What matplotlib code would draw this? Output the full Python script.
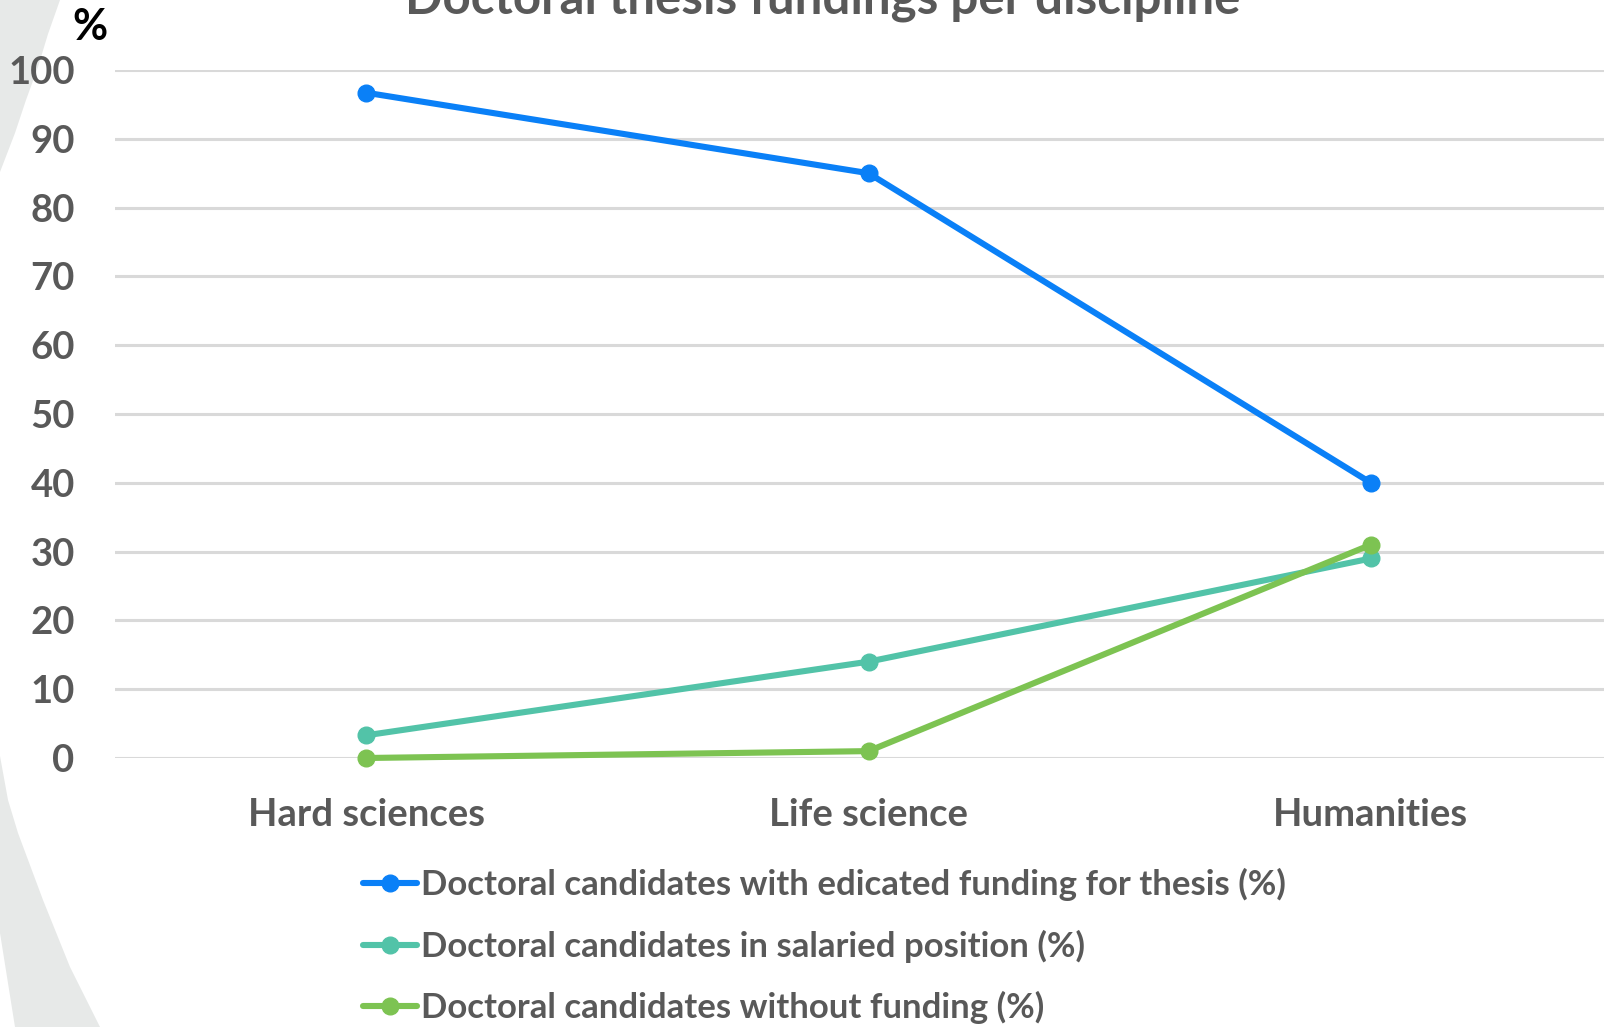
import matplotlib.pyplot as plt
from matplotlib.patches import Polygon

# data
categories = ['Hard sciences', 'Life science', 'Humanities']
dedicated = [96.7, 85, 40]
salaried = [3.3, 14, 29]
no_funding = [0, 1, 31]
labels = ['Doctoral candidates with edicated funding for thesis (%)',
          'Doctoral candidates in salaried position (%)',
          'Doctoral candidates without funding (%)']
colors = ['#0a80f7', '#52c3a8', '#7dc352']
yticks = list(range(0, 101, 10))

plt.rcParams['font.family'] = ['Lato', 'DejaVu Sans']
plt.rcParams['font.weight'] = 'bold'

W, H = 1604, 1027
fig = plt.figure(figsize=(W / 100, H / 100), dpi=100)


def px(pts):
    # pixel coords (from top-left) -> figure fraction
    return [(x / W, 1 - y / H) for x, y in pts]


# decorative grey band on the left
band = '#e7e9e8'
top_piece = [(0, 0), (60, 0), (48, 34), (38, 67), (26, 100), (15, 133), (0, 172), (0, 0)]
bot_piece = [(0, 756), (8, 800), (18, 833), (43, 900), (70, 967), (100, 1027),
             (15, 1027), (0, 933)]
for pts in (top_piece, bot_piece):
    fig.patches.append(Polygon(px(pts), closed=True, transform=fig.transFigure,
                               facecolor=band, edgecolor='none', zorder=-1))

ax = fig.add_axes([115 / W, 1 - 758 / H, (1622 - 115) / W, 688 / H])
ax.set_zorder(1)
ax.patch.set_alpha(0)

x = range(len(categories))
for vals, lab, c in zip([dedicated, salaried, no_funding], labels, colors):
    ax.plot(x, vals, '-o', color=c, lw=4.4, ms=12, label=lab,
            solid_capstyle='round', clip_on=False, zorder=3)

ax.set_xlim(-0.5, 2.5)
ax.set_ylim(0, 100)
ax.set_yticks(yticks)
ax.set_xticks(list(x))
ax.set_xticklabels(categories)
ax.grid(axis='y', color='#d9d9d9', lw=2.2)
ax.set_axisbelow(True)
for s in ax.spines.values():
    s.set_visible(False)
ax.tick_params(axis='both', length=0, labelsize=27.5, labelcolor='#595959')
ax.tick_params(axis='y', pad=29)
ax.tick_params(axis='x', pad=29)

fig.text(823 / W, 1 - 13 / H, 'Doctoral thesis fundings per discipline',
         ha='center', va='baseline', fontsize=35.5, color='#595959', fontweight='bold')
fig.text(90 / W, 1 - 40 / H, '%', ha='center', va='baseline', fontsize=31,
         color='black', fontweight='bold')

leg = fig.legend(loc='upper left', bbox_to_anchor=(363 / W, 1 - 868 / H),
                 frameon=False, fontsize=25, handlelength=1.55, handletextpad=0.12,
                 labelspacing=0.82, borderpad=0, borderaxespad=0)
for t in leg.get_texts():
    t.set_color('#595959')

fig.savefig('out.png', dpi=100)
